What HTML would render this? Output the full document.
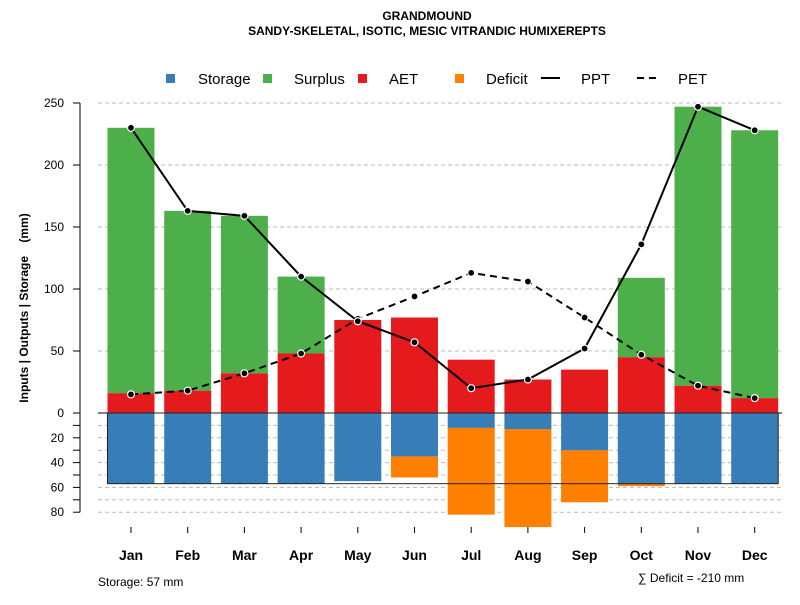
<!DOCTYPE html>
<html><head><meta charset="utf-8"><style>
body{margin:0;background:#fff;font-family:"Liberation Sans",sans-serif}
</style></head><body>
<svg id="c" width="800" height="600" xmlns="http://www.w3.org/2000/svg" font-family="Liberation Sans, sans-serif">
<text x="427" y="20" text-anchor="middle" font-size="12" font-weight="bold">GRANDMOUND</text>
<text x="427" y="35" text-anchor="middle" font-size="12" font-weight="bold">SANDY-SKELETAL, ISOTIC, MESIC VITRANDIC HUMIXEREPTS</text>
<g id="legend" font-size="15">
<g><rect x="166" y="74" width="9" height="9" fill="#377EB8"/><text x="198" y="84">Storage</text></g>
<g><rect x="263" y="74" width="9" height="9" fill="#4DAF4A"/><text x="294" y="84">Surplus</text></g>
<g><rect x="358" y="74" width="9" height="9" fill="#E41A1C"/><text x="389" y="84">AET</text></g>
<g><rect x="455" y="74" width="9" height="9" fill="#FF7F00"/><text x="486" y="84">Deficit</text></g>
<g><line x1="541" y1="78" x2="560" y2="78" stroke="#000" stroke-width="2"/><text x="581" y="84">PPT</text></g>
<g><line x1="637" y1="78" x2="661" y2="78" stroke="#000" stroke-width="2" stroke-dasharray="7,5"/><text x="678" y="84">PET</text></g>
</g>
<g id="grid"></g><g id="bars"></g><g id="lines"></g><g id="axes"></g>
<text transform="translate(28,308) rotate(-90)" text-anchor="middle" font-size="12" font-weight="bold" xml:space="preserve">Inputs | Outputs | Storage    (mm)</text>
<text x="98" y="586" font-size="12">Storage: 57 mm</text>
<text x="638" y="582" font-size="12">∑ Deficit = -210 mm</text>
</svg>
<script>
const months=["Jan","Feb","Mar","Apr","May","Jun","Jul","Aug","Sep","Oct","Nov","Dec"];
const aet=[16,18,32,48,75,77,43,27,35,45,22,12];
const surplus=[214,145,127,62,0,0,0,0,0,64,225,216];
const storage=[57,57,57,57,55,35,12,13,30,57,57,57];
const deficit=[0,0,0,0,0,17,70,79,42,2,0,0];
const ppt=[230,163,159,110,74,57,20,27,52,136,247,228];
const pet=[15,18,32,48,76,94,113,106,77,47,22,12];
const posTicks=[0,50,100,150,200,250];
const negTicks=[20,40,60,80];
const NS="http://www.w3.org/2000/svg";
const y=v=>413-v*1.24;
const x=i=>131+i*56.7;
const bw=47;
function mk(t,a,p){const e=document.createElementNS(NS,t);for(const k in a)e.setAttribute(k,a[k]);p.appendChild(e);return e;}
const G=document.getElementById('grid'),B=document.getElementById('bars'),L=document.getElementById('lines'),A=document.getElementById('axes');
posTicks.forEach(t=>{if(t>0){const l=mk('line',{x1:98,x2:782,y1:y(t),y2:y(t),stroke:'#bbb','stroke-dasharray':'4,3'},G);
}});
for(let v=10;v<=80;v+=10){const l=mk('line',{x1:98,x2:782,y1:y(-v),y2:y(-v),stroke:'#bbb','stroke-dasharray':'4,3'},G);
}
months.forEach((m,i)=>{
 const cx=x(i),x0=cx-bw/2;
 let r=mk('rect',{x:x0,y:y(aet[i]+surplus[i]),width:bw,height:surplus[i]*1.24,fill:'#4DAF4A'},B);
 
 r=mk('rect',{x:x0,y:y(aet[i]),width:bw,height:aet[i]*1.24,fill:'#E41A1C'},B);
 
 r=mk('rect',{x:x0,y:y(-storage[i]),width:bw,height:deficit[i]*1.24,fill:'#FF7F00'},B);
 
 r=mk('rect',{x:x0,y:413,width:bw,height:storage[i]*1.24,fill:'#377EB8'},B);
 
 const t=mk('text',{x:cx,y:560,'text-anchor':'middle','font-size':14,'font-weight':'bold'},A);t.textContent=m;
 
 const tk=mk('line',{x1:cx,x2:cx,y1:527,y2:533,stroke:'#000'},A);
 
});
let z=mk('line',{x1:98,x2:782,y1:413,y2:413,stroke:'#000'},A);
z=mk('rect',{x:x(0)-bw/2,y:413,width:x(11)+bw/2-(x(0)-bw/2),height:57*1.24,fill:'none',stroke:'#222','stroke-width':1},A);

function series(d,dash,name){
 const pts=d.map((v,i)=>x(i)+','+y(v)).join(' ');
 const pl=mk('polyline',{points:pts,fill:'none',stroke:'#000','stroke-width':2,'stroke-dasharray':dash},L);
 
 d.forEach((v,i)=>{const c=mk('circle',{cx:x(i),cy:y(v),r:3.5,fill:'#000',stroke:'#fff','stroke-width':1.2},L);
 });
}
series(pet,'7,5','pet');series(ppt,'none','ppt');
let ax=mk('line',{x1:80,x2:80,y1:y(250),y2:y(-80),stroke:'#000'},A);
posTicks.forEach(t=>{const l=mk('line',{x1:73,x2:80,y1:y(t),y2:y(t),stroke:'#000'},A);
 const tx=mk('text',{x:64,y:y(t)+4,'text-anchor':'end','font-size':12},A);tx.textContent=t;});
for(let v=10;v<=80;v+=10){const l=mk('line',{x1:73,x2:80,y1:y(-v),y2:y(-v),stroke:'#000'},A);}
negTicks.forEach(t=>{const tx=mk('text',{x:64,y:y(-t)+4,'text-anchor':'end','font-size':12},A);tx.textContent=t;});
</script>
</body></html>
